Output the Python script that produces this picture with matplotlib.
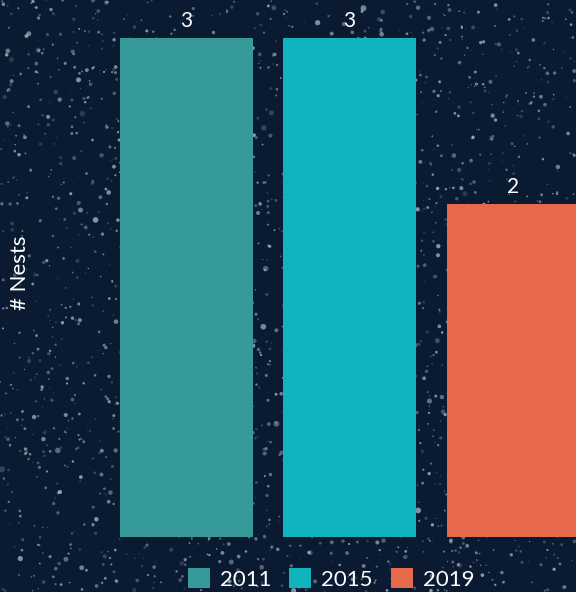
import numpy as np
import matplotlib
matplotlib.use("Agg")
import matplotlib.pyplot as plt
import matplotlib.patches as patches

plt.rcParams['font.family'] = ['Lato', 'DejaVu Sans']

# data
years = ['2011', '2015', '2019']
nests = [3, 3, 2]
colors = ['#36999a', '#10b4be', '#e6694a']
bg_color = '#0a1a31'

fig = plt.figure(figsize=(5.76, 5.92), dpi=100)
fig.patch.set_facecolor(bg_color)

# speckled backdrop (decoration only)
bg = fig.add_axes([0, 0, 1, 1], zorder=0)
bg.set_facecolor(bg_color)
bg.set_xlim(0, 1)
bg.set_ylim(0, 1)
bg.axis('off')
rng = np.random.default_rng(7)
n_spk = 2600
sx, sy = rng.random(n_spk), rng.random(n_spk)
ss = rng.gamma(1.3, 2.6, n_spk)
sa = rng.uniform(0.15, 0.65, n_spk)
bg.scatter(sx, sy, s=ss, c=[(0.82, 0.88, 0.94, a) for a in sa], linewidths=0)

ax = fig.add_axes([0, 55 / 592, 1, 537 / 592], zorder=1)
ax.patch.set_alpha(0)
x = np.arange(len(years))
bars = ax.bar(x, nests, width=0.815, color=colors, zorder=2)
ax.set_xlim(-1.14, 2.385)
ax.set_ylim(0, 3.23)
for rect, v in zip(bars, nests):
    ax.text(rect.get_x() + rect.get_width() / 2, v + 0.045, str(v),
            ha='center', va='bottom', color='white', fontsize=15)
for s in ax.spines.values():
    s.set_visible(False)
ax.set_xticks([])
ax.set_yticks([])

fig.text(20 / 576, 1 - 273 / 592, '# Nests', rotation=90, ha='center',
         va='center', color='white', fontsize=16)

handles = [patches.Patch(facecolor=c, edgecolor='none') for c in colors]
leg = fig.legend(handles, years, loc='center', ncol=3, frameon=False,
                 bbox_to_anchor=(331 / 576, 1 - 579 / 592), fontsize=16,
                 labelcolor='white', handlelength=1.0, handleheight=1.0,
                 handletextpad=0.45, columnspacing=0.8)

fig.savefig('out.png', dpi=100, facecolor=bg_color)
